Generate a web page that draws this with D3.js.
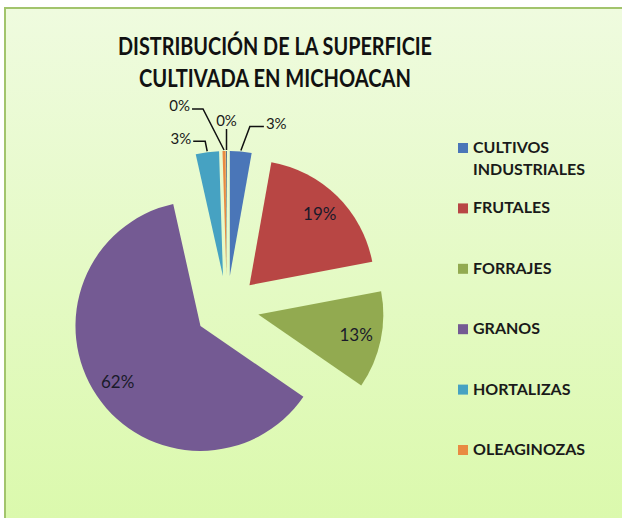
<!DOCTYPE html>
<html>
<head>
<meta charset="utf-8">
<script src="https://cdn.jsdelivr.net/npm/d3@7"></script>
<style>
  body { margin: 0; background: #fff; }
  svg { display: block; }
</style>
</head>
<body>
<div id="chart"></div>
<script>
// data (percent of cultivated area)
const categories = ["CULTIVOS INDUSTRIALES", "FRUTALES", "FORRAJES", "GRANOS", "HORTALIZAS", "OLEAGINOZAS", "OTROS"];
const shares = [2.8, 19.2, 12.6, 61.9, 3.0, 0.4, 0.1];
const colors = ["#4a76b8", "#b84644", "#92aa50", "#745a93", "#46a2c2", "#e98a42", "#2c4d75"];
const titleLines = ["DISTRIBUCIÓN DE LA SUPERFICIE", "CULTIVADA EN MICHOACAN"];

let width = 622, height = 518;
let cx = 227, cy = 308, radius = 125, explode = 32;

let svg = d3.select('#chart')
    .append('svg')
    .attr('width', width)
    .attr('height', height);

let defs = svg.append('defs');
let grad = defs.append('linearGradient')
    .attr('id', 'bg')
    .attr('x1', 0).attr('y1', 0).attr('x2', 0).attr('y2', 1);
grad.append('stop').attr('offset', '0%').attr('stop-color', '#effbdf');
grad.append('stop').attr('offset', '100%').attr('stop-color', '#d9f9a8');

// chart frame (runs off the right and bottom edges)
svg.append('rect')
    .attr('x', 5).attr('y', 8)
    .attr('width', 660).attr('height', 560)
    .attr('fill', 'url(#bg)')
    .attr('stroke', '#a2c46c')
    .attr('stroke-width', 2);

//Title
let titleWidths = [314, 272];
let title = svg.append('text')
    .attr('text-anchor', 'middle')
    .attr('font-family', 'Lato, sans-serif')
    .attr('font-weight', 'bold')
    .attr('font-size', '25px')
    .attr('fill', '#111');
title.selectAll('tspan').data(titleLines).enter()
    .append('tspan')
    .attr('x', 275)
    .attr('y', function (d, i) { return 55 + i * 32; })
    .attr('textLength', function (d, i) { return titleWidths[i]; })
    .attr('lengthAdjust', 'spacingAndGlyphs')
    .text(function (d) { return d; });

let data = categories.map(function (c, i) {
    return {name: c, value: shares[i], color: colors[i]};
});

let pie = d3.pie().sort(null).value(function (d) { return d.value; });
let arcs = pie(data);
let arc = d3.arc().innerRadius(0).outerRadius(radius);
let pct = d3.format('.0%');

function mid(a) { return (a.startAngle + a.endAngle) / 2; }
function offset(a, dist) {
    let m = mid(a);
    return [Math.sin(m) * dist, -Math.cos(m) * dist];
}

let g = svg.append('g').attr('transform', 'translate(' + cx + ',' + cy + ')');

g.selectAll('path.slice').data(arcs).enter()
    .append('path')
    .attr('class', 'slice')
    .attr('transform', function (d) {
        let o = offset(d, explode);
        return 'translate(' + o[0] + ',' + o[1] + ')';
    })
    .attr('d', arc)
    .attr('fill', function (d) { return d.data.color; });

// labels inside the big slices
let big = arcs.filter(function (d) { return d.data.value >= 5; });
g.selectAll('text.inlabel').data(big).enter()
    .append('text')
    .attr('class', 'inlabel')
    .attr('x', function (d) { return offset(d, explode + radius * 0.8)[0]; })
    .attr('y', function (d) { return offset(d, explode + radius * 0.8)[1]; })
    .attr('dy', '0.36em')
    .attr('text-anchor', 'middle')
    .attr('font-family', 'Lato, sans-serif')
    .attr('font-size', '17px')
    .attr('fill', '#1a1a2a')
    .text(function (d) { return pct(d.data.value / 100); });

// small slices: labels pulled outside with leader lines
let leaderLayout = {
    "CULTIVOS INDUSTRIALES": {bend: [9, -24], run: 14},
    "HORTALIZAS": {bend: [-2, -10], run: -12},
    "OLEAGINOZAS": {bend: [-21, -41], run: -11},
    "OTROS": {bend: [0, -21], run: 0}
};
let small = arcs.filter(function (d) { return d.data.value < 5; });
small.forEach(function (d) {
    let lay = leaderLayout[d.data.name];
    let p = offset(d, explode + radius + 1);
    let b = [p[0] + lay.bend[0], p[1] + lay.bend[1]];
    let e = [b[0] + lay.run, b[1]];
    g.append('path')
        .attr('d', d3.line()([p, b, e]))
        .attr('fill', 'none')
        .attr('stroke', '#111')
        .attr('stroke-width', 1.5);
    let t = g.append('text')
        .attr('font-family', 'Lato, sans-serif')
        .attr('font-size', '15px')
        .attr('fill', '#1a1a1a')
        .text(pct(d.data.value / 100));
    if (lay.run > 0) {
        t.attr('x', e[0] + 2).attr('y', e[1] - 3).attr('dy', '0.36em').attr('text-anchor', 'start');
    } else if (lay.run < 0) {
        t.attr('x', e[0] - 2).attr('y', e[1] - 3).attr('dy', '0.36em').attr('text-anchor', 'end');
    } else {
        t.attr('x', e[0]).attr('y', e[1] - 3).attr('text-anchor', 'middle');
    }
});

// Legend
let legendTop = 153, legendStep = 60.4, legendBottom = height - 8;
let legend = svg.append('g');
let items = data.filter(function (d, i) {
    return legendTop + i * legendStep + 4 <= legendBottom;
});
let li = legend.selectAll('g').data(items).enter()
    .append('g')
    .attr('transform', function (d, i) {
        return 'translate(458,' + (legendTop + i * legendStep) + ')';
    });
li.append('rect')
    .attr('x', 0).attr('y', -10)
    .attr('width', 10).attr('height', 10)
    .attr('fill', function (d) { return d.color; });
li.append('text')
    .attr('font-family', 'Lato, sans-serif')
    .attr('font-size', '16px')
    .attr('font-weight', 'bold')
    .attr('fill', '#1a1a1a')
    .selectAll('tspan')
    .data(function (d) { return d.name.split(' '); })
    .enter()
    .append('tspan')
    .attr('x', 15)
    .attr('y', function (d, i) { return i * 22; })
    .text(function (d) { return d; });
</script>
</body>
</html>
